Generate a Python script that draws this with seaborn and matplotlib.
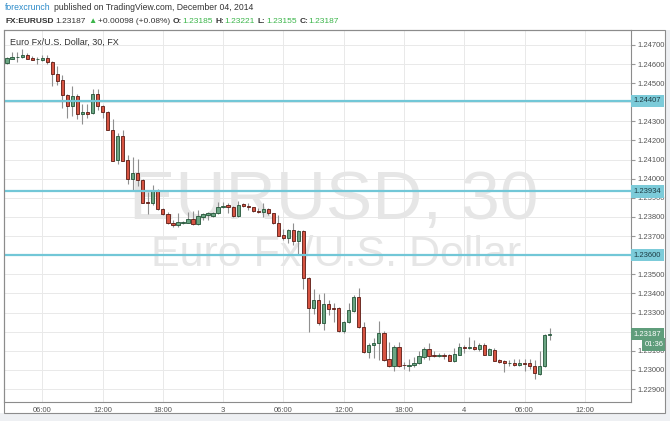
import pandas as pd
import numpy as np
import matplotlib
matplotlib.use('Agg')
import matplotlib.pyplot as plt
import matplotlib.dates as mdates
import matplotlib.transforms as mtransforms
from matplotlib.patches import Rectangle
import seaborn as sns

# EURUSD 30 min, 2014-12-02 02:30 -> 2014-12-04 08:30
opens = [1.24604, 1.24628, 1.24637, 1.24635, 1.24646, 1.24632, 1.24627, 1.24622, 1.24630, 1.24609,
         1.24550, 1.24515, 1.24438, 1.24381, 1.24435, 1.24337, 1.24348, 1.24342, 1.24442, 1.24379,
         1.24348, 1.24255, 1.24097, 1.24222, 1.24097, 1.23999, 1.24030, 1.23994, 1.23878, 1.23875,
         1.23941, 1.23840, 1.23816, 1.23770, 1.23756, 1.23770, 1.23770, 1.23788, 1.23762, 1.23802,
         1.23811, 1.23805, 1.23819, 1.23854, 1.23861, 1.23854, 1.23805, 1.23866, 1.23859, 1.23851,
         1.23831, 1.23826, 1.23840, 1.23819, 1.23767, 1.23704, 1.23688, 1.23732, 1.23676, 1.23727,
         1.23479, 1.23322, 1.23366, 1.23247, 1.23345, 1.23324, 1.23324, 1.23205, 1.23252, 1.23310,
         1.23383, 1.23223, 1.23095, 1.23130, 1.23139, 1.23195, 1.23055, 1.23020, 1.23121, 1.23025,
         1.23020, 1.23024, 1.23034, 1.23069, 1.23108, 1.23079, 1.23073, 1.23077, 1.23078, 1.23048,
         1.23080, 1.23121, 1.23115, 1.23121, 1.23108, 1.23130, 1.23080, 1.23104, 1.23052, 1.23046,
         1.23035, 1.23035, 1.23027, 1.23034, 1.23034, 1.23020, 1.22978, 1.23020, 1.23185]
highs = [1.24635, 1.24662, 1.24665, 1.24679, 1.24658, 1.24641, 1.24637, 1.24648, 1.24648, 1.24616,
         1.24592, 1.24540, 1.24445, 1.24484, 1.24442, 1.24390, 1.24390, 1.24470, 1.24470, 1.24386,
         1.24355, 1.24313, 1.24240, 1.24257, 1.24124, 1.24114, 1.24104, 1.23998, 1.23930, 1.23966,
         1.23945, 1.23845, 1.23828, 1.23784, 1.23823, 1.23779, 1.23828, 1.23833, 1.23837, 1.23819,
         1.23825, 1.23828, 1.23880, 1.23880, 1.23875, 1.23858, 1.23886, 1.23875, 1.23875, 1.23854,
         1.23845, 1.23875, 1.23845, 1.23823, 1.23809, 1.23735, 1.23735, 1.23770, 1.23732, 1.23732,
         1.23484, 1.23422, 1.23397, 1.23401, 1.23366, 1.23352, 1.23327, 1.23258, 1.23348, 1.23392,
         1.23427, 1.23252, 1.23139, 1.23165, 1.23258, 1.23201, 1.23148, 1.23130, 1.23148, 1.23043,
         1.23055, 1.23069, 1.23101, 1.23122, 1.23139, 1.23101, 1.23087, 1.23090, 1.23083, 1.23113,
         1.23142, 1.23130, 1.23174, 1.23156, 1.23142, 1.23142, 1.23113, 1.23113, 1.23059, 1.23052,
         1.23052, 1.23059, 1.23059, 1.23059, 1.23055, 1.23052, 1.23101, 1.23188, 1.23221]
lows = [1.24600, 1.24627, 1.24610, 1.24630, 1.24627, 1.24620, 1.24599, 1.24616, 1.24602, 1.24484,
        1.24491, 1.24372, 1.24316, 1.24330, 1.24313, 1.24285, 1.24320, 1.24341, 1.24360, 1.24320,
        1.24253, 1.24093, 1.24076, 1.24093, 1.23971, 1.23936, 1.23960, 1.23872, 1.23814, 1.23863,
        1.23837, 1.23811, 1.23763, 1.23750, 1.23750, 1.23763, 1.23767, 1.23758, 1.23757, 1.23784,
        1.23784, 1.23802, 1.23816, 1.23845, 1.23819, 1.23802, 1.23802, 1.23854, 1.23837, 1.23826,
        1.23819, 1.23802, 1.23810, 1.23763, 1.23701, 1.23680, 1.23662, 1.23654, 1.23601, 1.23422,
        1.23200, 1.23293, 1.23235, 1.23209, 1.23287, 1.23252, 1.23200, 1.23191, 1.23247, 1.23305,
        1.23218, 1.23087, 1.23061, 1.23061, 1.23052, 1.23048, 1.23013, 1.22996, 1.23017, 1.23003,
        1.22996, 1.23013, 1.23031, 1.23059, 1.23052, 1.23066, 1.23066, 1.23059, 1.23045, 1.23043,
        1.23076, 1.23090, 1.23111, 1.23104, 1.23101, 1.23076, 1.23076, 1.23045, 1.23038, 1.22990,
        1.23020, 1.23020, 1.23020, 1.22996, 1.23003, 1.22951, 1.22973, 1.23017, 1.23155]
closes = [1.24630, 1.24637, 1.24637, 1.24646, 1.24628, 1.24622, 1.24627, 1.24630, 1.24608, 1.24550,
          1.24513, 1.24438, 1.24381, 1.24433, 1.24337, 1.24348, 1.24341, 1.24442, 1.24379, 1.24348,
          1.24255, 1.24095, 1.24222, 1.24093, 1.23997, 1.24030, 1.23995, 1.23875, 1.23873, 1.23941,
          1.23840, 1.23816, 1.23767, 1.23756, 1.23772, 1.23775, 1.23788, 1.23762, 1.23805, 1.23816,
          1.23819, 1.23823, 1.23854, 1.23859, 1.23851, 1.23805, 1.23863, 1.23859, 1.23851, 1.23831,
          1.23826, 1.23840, 1.23819, 1.23767, 1.23702, 1.23688, 1.23732, 1.23676, 1.23727, 1.23479,
          1.23322, 1.23366, 1.23247, 1.23345, 1.23317, 1.23319, 1.23205, 1.23252, 1.23313, 1.23383,
          1.23223, 1.23095, 1.23130, 1.23143, 1.23191, 1.23052, 1.23020, 1.23121, 1.23020, 1.23023,
          1.23025, 1.23038, 1.23073, 1.23108, 1.23074, 1.23073, 1.23078, 1.23075, 1.23048, 1.23083,
          1.23121, 1.23115, 1.23120, 1.23108, 1.23130, 1.23080, 1.23108, 1.23048, 1.23041, 1.23034,
          1.23035, 1.23026, 1.23034, 1.23032, 1.23020, 1.22982, 1.23020, 1.23185, 1.23187]

levels = [1.24407, 1.23934, 1.23600]
y_ticks = [1.229, 1.230, 1.231, 1.232, 1.233, 1.234, 1.235, 1.236, 1.237, 1.238,
           1.239, 1.240, 1.241, 1.242, 1.243, 1.244, 1.245, 1.246, 1.247]
# rotulos escondidos pelas caixas no original
hidden_ticks = [1.244, 1.236, 1.232]
last_price = 1.23187
countdown = '01:36'

sns.set_style('white')
plt.rcParams['font.family'] = ['Liberation Sans', 'DejaVu Sans']

df = pd.DataFrame({
    'time': pd.date_range('2014-12-02 02:30', periods=len(opens), freq='30min'),
    'open': opens, 'high': highs, 'low': lows, 'close': closes,
})
df['x'] = mdates.date2num(df['time'])
df['up'] = df['close'] >= df['open']

W, H = 670, 421
fig = plt.figure(figsize=(W / 100, H / 100), dpi=100)
fig.patch.set_facecolor('white')

def fx(px):
    return px / W

def fy(py):
    return 1 - py / H

ax = fig.add_axes([fx(4), fy(402), fx(631) - fx(4), fy(30) - fy(402)])

# fundo cinza fora do quadro
fig.add_artist(Rectangle((0, 0), 1, fy(413), transform=fig.transFigure,
                         fc='#eef0f3', ec='none', zorder=0))
fig.add_artist(Rectangle((fx(665), 0), 1 - fx(665), fy(30), transform=fig.transFigure,
                         fc='#eef0f3', ec='none', zorder=0))
fig.add_artist(Rectangle((fx(4), fy(413)), fx(665) - fx(4), fy(30) - fy(413),
                         transform=fig.transFigure, fill=False, ec='#8c8c8c', lw=0.8, zorder=1))

# marca d'agua
ax.text(fx(334), fy(219), 'EURUSD, 30', transform=fig.transFigure, ha='center',
        va='baseline', fontsize=50, color='#e6e6e6', zorder=0.6)
ax.text(fx(336), fy(266), 'Euro Fx/U.S. Dollar', transform=fig.transFigure, ha='center',
        va='baseline', fontsize=31, color='#e6e6e6', zorder=0.6)

# velas
bw = 0.66 / 48
ax.vlines(df['x'], df['low'], df['high'], color='#8f8f8f', lw=0.8, zorder=2)
for up, fill, edge in [(True, '#6ba583', '#225437'), (False, '#d75442', '#5b1a13')]:
    d = df[df['up'] == up]
    ax.bar(d['x'], (d['close'] - d['open']).abs(), bottom=d[['open', 'close']].min(axis=1),
           width=bw, color=fill, edgecolor=edge, linewidth=0.6, zorder=3)

# niveis
yt = mtransforms.blended_transform_factory(ax.transAxes, ax.transData)
for lv in levels:
    ax.axhline(lv, color='#72c7d7', lw=1.6, zorder=4)
    ax.text(1.004, lv, f'{lv:.5f}', transform=yt, ha='left', va='center', fontsize=5.5,
            color='#1d3c44', clip_on=False, zorder=10,
            bbox=dict(boxstyle='square,pad=0.35', fc='#7ccbd9', ec='none'))

ax.text(1.004, last_price, f'{last_price:.5f}', transform=yt, ha='left', va='center',
        fontsize=5.5, color='white', clip_on=False, zorder=10,
        bbox=dict(boxstyle='square,pad=0.35', fc='#5f9d7b', ec='none'))
ax.text(1.052, last_price - 0.00055, countdown, transform=yt, ha='right', va='center',
        fontsize=5.5, color='white', clip_on=False, zorder=10,
        bbox=dict(boxstyle='square,pad=0.35', fc='#5f9d7b', ec='none'))

# eixos
x0 = mdates.date2num(pd.Timestamp('2014-12-02'))
ax.set_xlim(x0 + 2.19 / 24, x0 + 64.6 / 24)
ax.set_ylim(1.22832, 1.24778)
ax.set_yticks(y_ticks)
ax.set_yticklabels(['' if any(abs(v - h) < 1e-6 for h in hidden_ticks) else f'{v:.5f}'
                    for v in y_ticks])
ax.yaxis.tick_right()
ax.xaxis.set_major_locator(mdates.HourLocator(byhour=[0, 6, 12, 18]))
ax.xaxis.set_major_formatter(plt.FuncFormatter(
    lambda v, p: str(mdates.num2date(v).day) if mdates.num2date(v).hour == 0
    else mdates.num2date(v).strftime('%H:%M')))
ax.tick_params(axis='y', length=3, color='#999999', labelsize=5.5, labelcolor='#555555', pad=2)
ax.tick_params(axis='x', length=0, labelsize=5.5, labelcolor='#555555', pad=3.5)
ax.grid(True, color='#e9e9e9', lw=0.7)
ax.set_axisbelow(True)
for s in ax.spines.values():
    s.set_color('#8c8c8c')
    s.set_linewidth(0.8)

ax.text(fx(10), fy(42), 'Euro Fx/U.S. Dollar, 30, FX', transform=fig.transFigure,
        ha='left', va='center', fontsize=6.5, color='#333333', zorder=10)

# cabecalho
t = fig.text(fx(5), fy(10.5), 'forexcrunch', color='#2a8ac9', fontsize=6.2, va='baseline')
ax.annotate('published on TradingView.com, December 04, 2014', xy=(1, 0), xycoords=t,
            xytext=(2.5, 0), textcoords='offset points', va='bottom', ha='left',
            fontsize=6.2, color='#333333', annotation_clip=False)

pieces = [('FX:EURUSD', '#333333', 'bold', 0), ('1.23187', '#333333', 'normal', 1.6),
          ('\u25B2', '#3bb54a', 'normal', 1.6), ('+0.00098 (+0.08%)', '#333333', 'normal', 1.0),
          ('O:', '#333333', 'bold', 2.0), ('1.23185', '#3bb54a', 'normal', 0.2),
          ('H:', '#333333', 'bold', 2.0), ('1.23221', '#3bb54a', 'normal', 0.2),
          ('L:', '#333333', 'bold', 2.0), ('1.23155', '#3bb54a', 'normal', 0.2),
          ('C:', '#333333', 'bold', 2.0), ('1.23187', '#3bb54a', 'normal', 0.2)]
prev = None
for txt, col, wt, gap in pieces:
    if prev is None:
        prev = fig.text(fx(5), fy(23), txt, color=col, fontsize=6.0, fontweight=wt,
                        va='baseline')
    else:
        prev = ax.annotate(txt, xy=(1, 0), xycoords=prev, xytext=(gap, 0),
                           textcoords='offset points', va='bottom', ha='left',
                           fontsize=6.0, color=col, fontweight=wt, annotation_clip=False)

fig.savefig('out.png', dpi=100, facecolor=fig.get_facecolor())
